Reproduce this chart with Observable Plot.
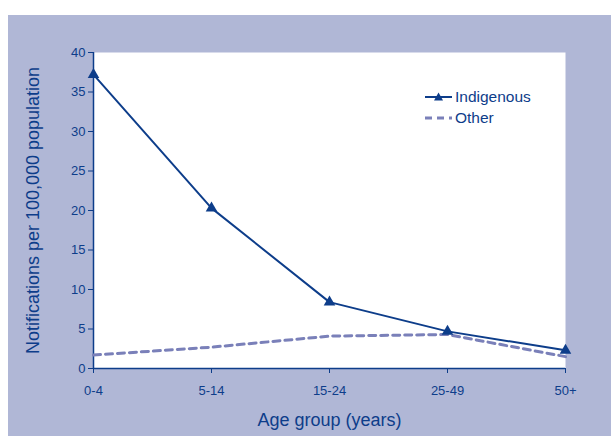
<!DOCTYPE html>
<html>
<head>
<meta charset="utf-8">
<script src="https://cdn.jsdelivr.net/npm/d3@7"></script>
<script src="https://cdn.jsdelivr.net/npm/@observablehq/plot@0.6"></script>
<style>
  body { margin: 0; background: #fff; }
  #wrap { position: relative; width: 611px; height: 436px; background: #fff; overflow: hidden; font-family: "Liberation Sans", Arial, sans-serif; }
  #panel { position: absolute; left: 8px; top: 15px; right: 0; bottom: 0; background: #b0b7d6; }
  #chart { position: absolute; left: 0; top: 0; }
  #legend { position: absolute; left: 425px; top: 86px; color: #0d3d8a; font-size: 15.5px; line-height: 21px; }
  #legend div { display: flex; align-items: center; height: 21px; }
  #legend svg { margin-right: 3px; }
</style>
</head>
<body>
<div id="wrap">
  <div id="panel"></div>
  <div id="chart"></div>
  <div id="legend"></div>
</div>
<script>
const ages = ["0-4", "5-14", "15-24", "25-49", "50+"];
const indigenous = [37.2, 20.3, 8.4, 4.7, 2.3];
const other = [1.7, 2.7, 4.1, 4.3, 1.5];
const yTicks = [0, 5, 10, 15, 20, 25, 30, 35, 40];
const seriesNames = ["Indigenous", "Other"];
const yLabel = "Notifications per 100,000 population";
const xLabel = "Age group (years)";

const navy = "#0d3d8a";
const lav = "#7a80b9";

const indData = ages.map((a, i) => ({age: a, value: indigenous[i]}));
const othData = ages.map((a, i) => ({age: a, value: other[i]}));

const chart = Plot.plot({
  width: 611,
  height: 436,
  marginLeft: 93,
  marginRight: 46,
  marginTop: 52,
  marginBottom: 68,
  style: {background: "transparent", fontFamily: "Liberation Sans, Arial, sans-serif", color: navy},
  x: {type: "point", domain: ages, padding: 0},
  y: {domain: [0, 40]},
  marks: [
    Plot.frame({fill: "white", stroke: null}),
    Plot.axisY({ticks: yTicks, tickSize: 5, tickPadding: 3, fontSize: 13, label: null, color: navy}),
    Plot.axisX({tickSize: 5, tickPadding: 12, fontSize: 13, label: null, color: navy}),
    Plot.ruleX([ages[0]], {stroke: navy, strokeWidth: 1.5}),
    Plot.ruleY([0], {stroke: navy, strokeWidth: 1.5}),
    Plot.line(othData, {x: "age", y: "value", stroke: lav, strokeWidth: 3, strokeDasharray: "7,5"}),
    Plot.line(indData, {x: "age", y: "value", stroke: navy, strokeWidth: 2}),
    Plot.dot(indData, {x: "age", y: "value", symbol: "triangle", r: 4.3, fill: navy, stroke: null}),
    Plot.text([yLabel], {frameAnchor: "left", textAnchor: "middle", rotate: -90, dx: -60, fontSize: 18, fill: navy}),
    Plot.text([xLabel], {frameAnchor: "bottom", textAnchor: "middle", dy: 57, fontSize: 18, fill: navy})
  ]
});
document.getElementById("chart").appendChild(chart);

const legend = document.getElementById("legend");
legend.innerHTML =
  `<div><svg width="27" height="12"><line x1="0" y1="6" x2="27" y2="6" stroke="${navy}" stroke-width="2"/><path d="M13.5,1.5 L18,9.5 L9,9.5 Z" fill="${navy}"/></svg><span>${seriesNames[0]}</span></div>` +
  `<div><svg width="27" height="12"><line x1="0" y1="6" x2="27" y2="6" stroke="${lav}" stroke-width="3" stroke-dasharray="7,5"/></svg><span>${seriesNames[1]}</span></div>`;
</script>
</body>
</html>
